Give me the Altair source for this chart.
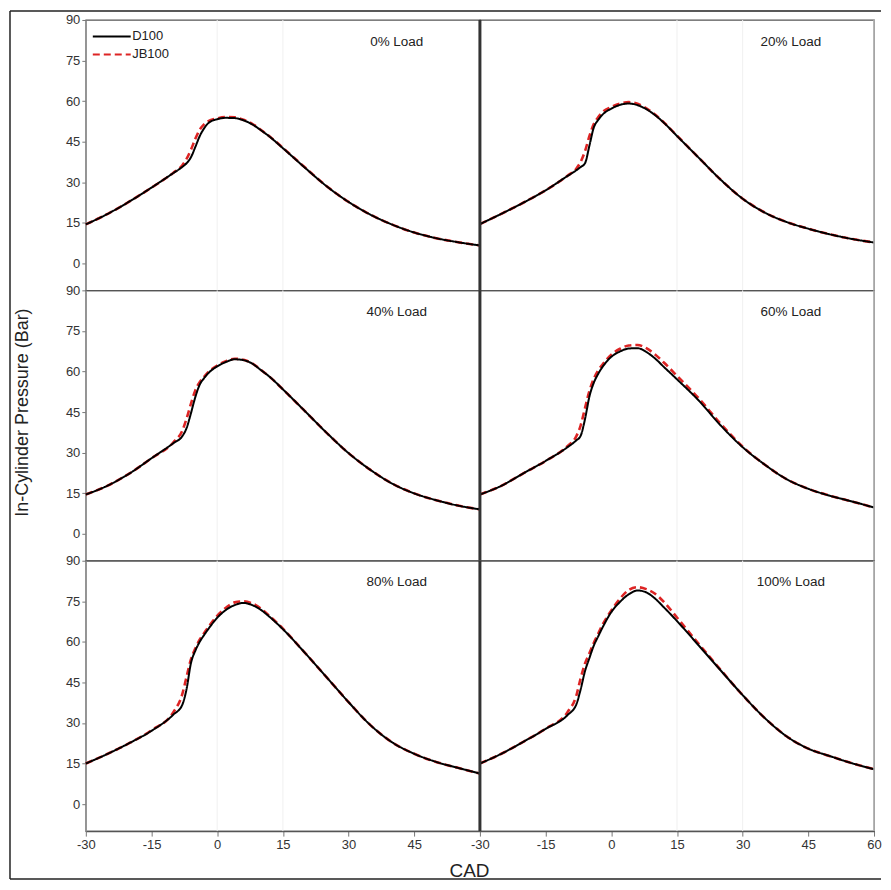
import altair as alt
import pandas as pd

FONT = "Liberation Sans, Arial, sans-serif"

CAD = [-30, -25, -20, -15, -10, -8, -7, -6, -5, -4, -3, -2, 0, 2, 4, 6, 8, 10, 12, 15,
       20, 25, 30, 35, 40, 45, 50, 55, 60]

LOADS = ["0% Load", "20% Load", "40% Load", "60% Load", "80% Load", "100% Load"]
FUELS = ["D100", "JB100"]

D100_0 = [14.4, 18.3, 22.9, 28.0, 33.4, 35.6, 37.0, 39.2, 43.0, 47.0, 49.9, 51.9, 53.3, 53.8, 53.7, 52.9, 51.4, 49.2, 46.8, 42.6, 35.4, 28.5, 22.7, 18.0, 14.3, 11.4, 9.3, 7.8, 6.6]
JB100_0 = [14.4, 18.3, 22.9, 28.0, 33.5, 36.2, 38.6, 42.0, 46.0, 49.4, 51.4, 52.6, 53.6, 54.1, 54.0, 53.1, 51.6, 49.3, 46.9, 42.7, 35.5, 28.5, 22.7, 18.0, 14.3, 11.4, 9.3, 7.8, 6.6]

D100_20 = [14.5, 18.4, 22.5, 27.0, 32.3, 34.4, 35.6, 37.0, 43.5, 50.2, 53.0, 55.0, 57.2, 58.6, 59.1, 58.5, 57.0, 54.8, 52.0, 47.1, 39.0, 30.9, 23.9, 18.8, 15.3, 12.8, 10.7, 9.0, 7.7]
JB100_20 = [14.5, 18.4, 22.5, 27.0, 32.4, 35.0, 37.5, 41.5, 47.0, 51.5, 54.0, 55.9, 57.8, 59.1, 59.6, 59.0, 57.3, 55.0, 52.1, 47.2, 39.0, 30.9, 23.9, 18.8, 15.3, 12.8, 10.7, 9.0, 7.7]

D100_40 = [14.5, 17.8, 22.3, 27.9, 33.5, 36.0, 39.0, 44.5, 50.5, 55.1, 57.5, 59.4, 61.9, 63.5, 64.5, 64.2, 62.9, 60.5, 58.0, 53.4, 45.4, 37.3, 29.8, 23.6, 18.5, 14.9, 12.4, 10.4, 9.0]
JB100_40 = [14.5, 17.8, 22.3, 27.9, 33.8, 38.0, 42.5, 48.0, 53.0, 56.0, 58.0, 59.8, 62.2, 63.8, 64.7, 64.3, 63.0, 60.6, 58.0, 53.4, 45.4, 37.3, 29.8, 23.6, 18.5, 14.9, 12.4, 10.4, 9.0]

D100_60 = [14.5, 17.8, 22.4, 26.9, 32.0, 34.5, 36.2, 42.4, 50.7, 55.8, 59.1, 61.7, 65.4, 67.4, 68.5, 68.6, 67.2, 64.8, 61.7, 57.1, 49.2, 40.0, 32.0, 25.6, 20.2, 16.6, 14.0, 11.9, 9.7]
JB100_60 = [14.5, 17.8, 22.4, 26.9, 32.4, 36.0, 40.0, 46.5, 52.8, 57.3, 60.4, 62.6, 66.2, 68.4, 69.6, 69.8, 68.6, 66.3, 63.3, 58.4, 50.0, 40.6, 32.2, 25.6, 20.2, 16.6, 14.0, 11.9, 9.7]

D100_80 = [15.0, 18.6, 22.6, 27.1, 33.1, 36.6, 42.5, 52.1, 56.7, 60.0, 62.5, 64.8, 68.9, 71.8, 73.6, 74.4, 73.6, 71.8, 69.2, 64.7, 56.0, 46.9, 37.7, 29.2, 22.8, 18.6, 15.6, 13.4, 11.3]
JB100_80 = [15.0, 18.6, 22.6, 27.3, 34.0, 40.5, 47.0, 53.5, 57.5, 60.8, 63.2, 65.5, 69.6, 72.6, 74.6, 75.0, 74.2, 72.3, 69.5, 64.9, 56.0, 46.9, 37.7, 29.2, 22.8, 18.6, 15.6, 13.4, 11.3]

D100_100 = [15.0, 18.7, 23.1, 27.8, 32.9, 36.8, 42.4, 49.2, 54.0, 58.6, 62.0, 65.3, 71.0, 74.8, 77.6, 79.0, 78.3, 76.0, 72.8, 67.7, 58.6, 49.4, 40.3, 31.9, 25.1, 20.5, 17.7, 15.1, 12.9]
JB100_100 = [15.0, 18.7, 23.1, 27.9, 34.0, 40.0, 46.5, 52.0, 55.8, 59.6, 63.0, 66.3, 71.6, 76.0, 79.2, 80.2, 79.5, 77.8, 74.8, 69.0, 59.2, 49.6, 40.3, 31.9, 25.1, 20.5, 17.7, 15.1, 12.9]

Y_TICKS = [0, 15, 30, 45, 60, 75, 90]
X_TICKS_LEFT = [-30, -15, 0, 15, 30, 45]
X_TICKS_RIGHT = [-30, -15, 0, 15, 30, 45, 60]
GRID_LEFT = [0, 15]
GRID_RIGHT = [15, 30]
LABEL_POS = (41, 82)

SERIES = [
    (D100_0, JB100_0), (D100_20, JB100_20),
    (D100_40, JB100_40), (D100_60, JB100_60),
    (D100_80, JB100_80), (D100_100, JB100_100),
]

PW, PH = 395, 271

xscale = alt.Scale(domain=[-30, 60], nice=False, zero=False)
yscale = alt.Scale(domain=[-10, 90], nice=False, zero=False)
cscale = alt.Scale(domain=FUELS, range=["#000000", "#dd2424"])
dscale = alt.Scale(domain=FUELS, range=[[1, 0], [7, 4]])

legend = alt.Legend(
    title=None, orient="none", legendX=5, legendY=6,
    symbolType="M-2,0L2,0", symbolSize=361, symbolStrokeWidth=2,
    symbolOffset=10.5, labelOffset=10,
    labelFontSize=13, labelFont=FONT, labelColor="#222", rowPadding=-2,
)


def make_panel(i):
    row, col = divmod(i, 2)
    d_vals, j_vals = SERIES[i]
    df = pd.DataFrame({
        "CAD": CAD * 2,
        "P": d_vals + j_vals,
        "Fuel": ["D100"] * len(CAD) + ["JB100"] * len(CAD),
    })

    if row == 2:
        x_axis = alt.Axis(
            values=X_TICKS_LEFT if col == 0 else X_TICKS_RIGHT,
            labelExpr="'' + datum.value",
            labelFlush=False, labelFontSize=13, labelFont=FONT, labelColor="#333",
            tickColor="#777", tickSize=5, labelPadding=2, domainColor="#555",
            domainWidth=1.5, grid=False,
            title="CAD" if col == 0 else "",
            titleX=384, titleY=39, titleAlign="center", titleBaseline="middle",
            titleFontSize=19, titleFontWeight="normal", titleFont=FONT, titleColor="#222",
        )
    else:
        x_axis = None

    if col == 0:
        y_axis = alt.Axis(
            values=Y_TICKS, labelFontSize=13, labelFont=FONT, labelColor="#333",
            tickColor="#777", tickSize=4, labelPadding=2, domainColor="#999",
            grid=False,
            title="In-Cylinder Pressure (Bar)" if row == 1 else "",
            titleX=-63, titleY=122, titleAngle=270, titleAlign="center",
            titleBaseline="middle", titleFontSize=18, titleFontWeight="normal",
            titleFont=FONT, titleColor="#222",
        )
    else:
        y_axis = None

    x = alt.X("CAD:Q", scale=xscale, axis=x_axis)
    y = alt.Y("P:Q", scale=yscale, axis=y_axis)
    color = alt.Color("Fuel:N", scale=cscale, legend=legend)
    dash = alt.StrokeDash("Fuel:N", scale=dscale, legend=legend)

    grid_df = pd.DataFrame({"gx": GRID_LEFT if col == 0 else GRID_RIGHT})
    grid = alt.Chart(grid_df).mark_rule(color="#f0f0f0", strokeWidth=1).encode(
        x=alt.X("gx:Q", scale=xscale, axis=x_axis)
    )

    jb = alt.Chart(df).transform_filter(alt.datum.Fuel == "JB100").mark_line(
        strokeWidth=2.6, interpolate="monotone"
    ).encode(x=x, y=y, color=color, strokeDash=dash)
    d = alt.Chart(df).transform_filter(alt.datum.Fuel == "D100").mark_line(
        strokeWidth=2, interpolate="monotone"
    ).encode(x=x, y=y, color=color, strokeDash=dash)

    lab_df = pd.DataFrame({"lx": [LABEL_POS[0]], "ly": [LABEL_POS[1]], "label": [LOADS[i]]})
    label = alt.Chart(lab_df).mark_text(
        align="center", baseline="middle", fontSize=13.5, font=FONT, color="#222"
    ).encode(x=alt.X("lx:Q", scale=xscale, axis=x_axis),
             y=alt.Y("ly:Q", scale=yscale, axis=y_axis), text="label:N")

    layers = [grid, jb, d, label]

    if col == 1:
        edge_df = pd.DataFrame({"ex": [60]})
        layers.append(
            alt.Chart(edge_df).mark_rule(color="#b8b8b8", strokeWidth=1.5)
            .encode(x=alt.X("ex:Q", scale=xscale, axis=x_axis))
        )
        sep_df = pd.DataFrame({"sx": [-30]})
        layers.append(
            alt.Chart(sep_df).mark_rule(color="#333333", strokeWidth=3)
            .encode(x=alt.X("sx:Q", scale=xscale, axis=x_axis))
        )

    if i == 0:
        fr = pd.DataFrame({"k": [0]})
        layers.append(alt.Chart(fr).mark_rule(color="#222", strokeWidth=1.5).encode(
            x=alt.value(-76), x2=alt.value(797), y=alt.value(-9)))
        layers.append(alt.Chart(fr).mark_rule(color="#222", strokeWidth=1.5).encode(
            x=alt.value(-76), y=alt.value(-9), y2=alt.value(861)))
        layers.append(alt.Chart(fr).mark_rule(color="#222", strokeWidth=1.5).encode(
            x=alt.value(-76), x2=alt.value(797), y=alt.value(861)))

    return alt.layer(*layers).properties(width=PW, height=PH)


panels = [make_panel(i) for i in range(6)]

chart = alt.concat(*panels, columns=2, spacing=0, bounds="flush").properties(
    padding=0
).configure(
    font=FONT, background="white"
).configure_view(
    stroke="#555555", strokeWidth=1.3
)

chart.save("out.html", embed_options={"renderer": "svg", "actions": False})
